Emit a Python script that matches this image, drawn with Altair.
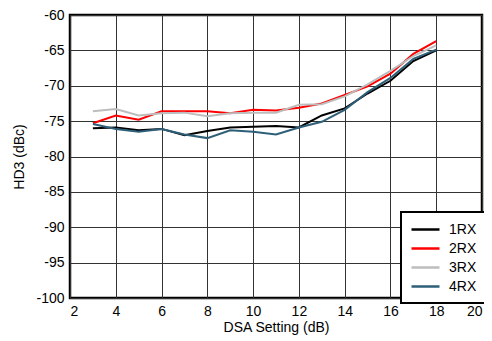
import altair as alt
import pandas as pd

dsa = [3, 4, 5, 6, 7, 8, 9, 10, 11, 12, 13, 14, 15, 16, 17, 18]
rx1 = [-76.0, -75.9, -76.3, -76.1, -77.0, -76.4, -75.9, -75.8, -75.7, -75.9, -74.2, -73.2, -71.1, -69.3, -66.5, -65.0]
rx2 = [-75.3, -74.2, -74.8, -73.6, -73.6, -73.6, -73.9, -73.4, -73.5, -73.1, -72.5, -71.3, -70.1, -68.3, -65.5, -63.7]
rx3 = [-73.6, -73.3, -74.2, -73.9, -73.8, -74.3, -73.9, -73.8, -73.8, -72.7, -72.6, -71.5, -69.8, -67.9, -65.8, -64.3]
rx4 = [-75.4, -76.1, -76.5, -76.1, -76.9, -77.4, -76.3, -76.5, -76.9, -75.9, -75.1, -73.4, -70.9, -68.9, -66.2, -64.9]

series = ["1RX", "2RX", "3RX", "4RX"]
colors = ["#000000", "#ff0000", "#bdbdbd", "#2e5f78"]
x_ticks = list(range(2, 21, 2))
y_ticks = list(range(-100, -59, 5))

rows = []
for name, vals in zip(series, [rx1, rx2, rx3, rx4]):
    for x, y in zip(dsa, vals):
        rows.append({"dsa": x, "hd3": y, "series": name})
df = pd.DataFrame(rows)

FONT = "Liberation Sans"

chart = alt.Chart(df).mark_line(strokeWidth=2).encode(
    x=alt.X("dsa:Q", scale=alt.Scale(domain=[2, 20], nice=False),
            axis=alt.Axis(values=x_ticks, title="DSA Setting (dB)", ticks=False,
                          labelPadding=6, titlePadding=2, domain=False,
                          labelExpr="datum.value + ''",
                          gridColor="#333333", gridOpacity=1, gridWidth=1)),
    y=alt.Y("hd3:Q", scale=alt.Scale(domain=[-100, -60], nice=False),
            axis=alt.Axis(values=y_ticks, title="HD3 (dBc)", ticks=False,
                          labelPadding=6, titlePadding=9, domain=False,
                          labelExpr="datum.value + ''",
                          gridColor="#333333", gridOpacity=1, gridWidth=1)),
    color=alt.Color("series:N", scale=alt.Scale(domain=series, range=colors),
                    legend=alt.Legend(title=None, orient="none", legendX=331, legendY=197,
                                      fillColor="white", strokeColor="black",
                                      padding=9, symbolType="M-1,0L3,0",
                                      symbolSize=196, symbolStrokeWidth=2.5,
                                      labelOffset=22, rowPadding=3,
                                      labelFontSize=14, labelFont=FONT,
                                      labelColor="black")),
).properties(
    width=412, height=283,
    autosize=alt.AutoSizeParams(type="none"),
    padding={"left": 62, "top": 7, "right": 2, "bottom": 40},
).configure_view(
    stroke="black", strokeWidth=2.5
).configure_axis(
    labelFont=FONT, titleFont=FONT, labelFontSize=14, titleFontSize=14,
    titleFontWeight="normal", labelColor="black", titleColor="black"
).configure_legend(
    strokeWidth=2
)

chart.save("out.html", embed_options={"renderer": "svg", "actions": False})
